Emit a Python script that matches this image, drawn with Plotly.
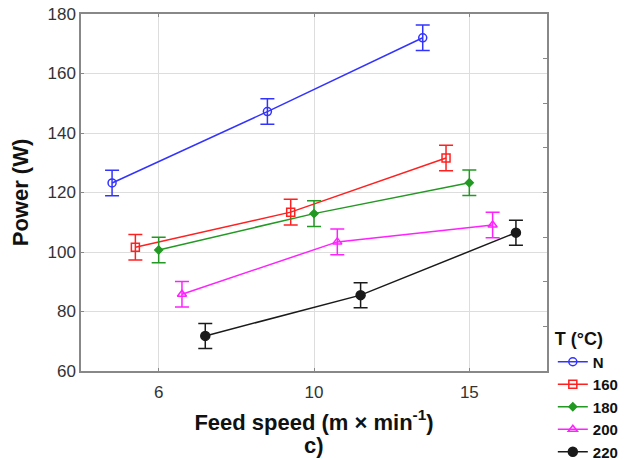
import plotly.graph_objects as go

categories = ["6", "10", "15"]
series_names = ["N", "160", "180", "200", "220"]
power_N = [123.2, 147.2, 172.0]
power_160 = [101.6, 113.4, 131.6]
power_180 = [100.7, 112.9, 123.3]
power_200 = [85.8, 103.4, 109.1]
power_220 = [71.8, 85.5, 106.5]
err_N = [4.3, 4.3, 4.3]
err_160 = [4.3, 4.3, 4.3]
err_180 = [4.3, 4.3, 4.3]
err_200 = [4.3, 4.3, 4.3]
err_220 = [4.2, 4.2, 4.2]

values = [power_N, power_160, power_180, power_200, power_220]
errors = [err_N, err_160, err_180, err_200, err_220]
colors = ["#3333ff", "#ff2020", "#229922", "#ff22ff", "#1a1a1a"]
symbols = ["circle-open", "square-open", "diamond", "triangle-up-open", "circle"]
msizes = [8, 8, 6, 8, 9]
offsets = [-0.3, -0.15, 0.0, 0.15, 0.3]

fig = go.Figure()
for name, v, e, c, s, ms, off in zip(series_names, values, errors, colors, symbols, msizes, offsets):
    xs = [i + off for i in range(len(categories))]
    fig.add_trace(go.Scatter(
        x=xs, y=v, name="<b>" + name + "</b>", mode="lines+markers",
        line=dict(color=c, width=1.5),
        marker=dict(symbol=s, size=ms, color=c, line=dict(color=c, width=1.5)),
        error_y=dict(type="data", array=e, visible=True, color=c, thickness=1.5, width=7),
    ))

# secondary axis for right-side minor ticks
fig.add_trace(go.Scatter(x=[None], y=[None], yaxis="y2", showlegend=False, hoverinfo="skip"))

font_family = "Liberation Sans, Arial, sans-serif"
fig.update_layout(
    width=628, height=460,
    margin=dict(l=73, r=89, t=6, b=97, autoexpand=False),
    paper_bgcolor="white", plot_bgcolor="white",
    font=dict(family=font_family, color="#222222"),
    xaxis=dict(
        range=[-0.5, 2.5], tickmode="array", tickvals=[0, 1, 2], ticktext=categories,
        showgrid=True, gridcolor="#dddddd", gridwidth=1,
        showline=True, linecolor="#888888", linewidth=1.5, mirror="ticks",
        ticks="inside", ticklen=3, tickcolor="#888888", ticklabelstandoff=5,
        tickfont=dict(size=17, color="#333333"), zeroline=False,
        title=dict(text="<b>Feed speed (m × min<sup>-1</sup>)</b>",
                   font=dict(size=22, color="#111111"), standoff=13),
    ),
    yaxis=dict(
        range=[60, 180], dtick=20, tick0=60,
        showgrid=True, gridcolor="#dddddd", gridwidth=1,
        showline=True, linecolor="#888888", linewidth=1.5, mirror=True,
        ticks="inside", ticklen=3, tickcolor="#888888", ticklabeloverflow="allow",
        tickfont=dict(size=17, color="#333333"), zeroline=False,
        title=dict(text="<b>Power (W)</b>", font=dict(size=22, color="#111111"), standoff=13),
    ),
    yaxis2=dict(
        range=[60, 180], overlaying="y", side="right", dtick=15, tick0=60,
        ticks="inside", ticklen=4, tickcolor="#888888", showticklabels=False,
        showgrid=False, zeroline=False, showline=False,
    ),
    legend=dict(
        x=1.0125, xanchor="left", y=0.137, yanchor="top",
        title=dict(text="<b>T (°C)</b>", font=dict(size=18, color="#111111")),
        font=dict(size=15, color="#111111"),
        bgcolor="rgba(0,0,0,0)", tracegroupgap=0,
    ),
    annotations=[dict(
        text="<b>c)</b>", xref="paper", yref="paper", x=0.5, y=-0.21,
        xanchor="center", yanchor="middle", showarrow=False,
        font=dict(size=22, color="#111111"),
    )],
)

fig.write_html("out.html")
